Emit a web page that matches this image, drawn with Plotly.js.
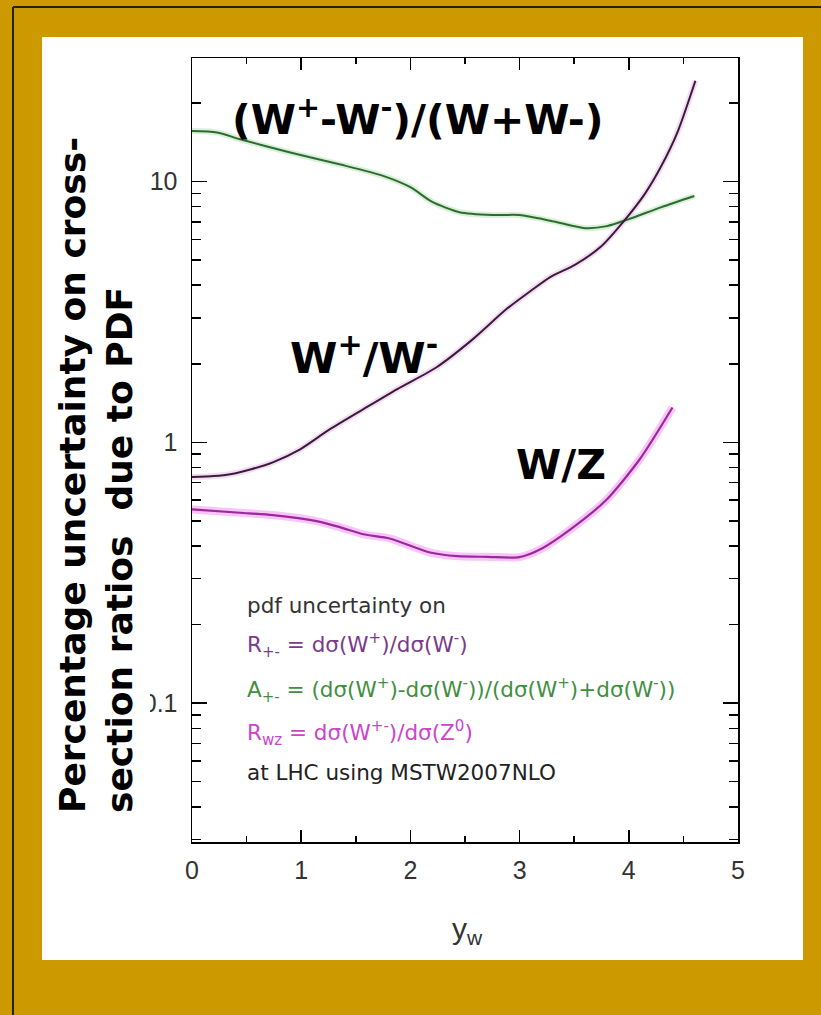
<!DOCTYPE html>
<html>
<head>
<meta charset="utf-8">
<script src="https://cdn.plot.ly/plotly-3.0.1.min.js"></script>
<style>html,body{margin:0;padding:0;background:#CC9900;}#chart{width:821px;height:1015px;}</style>
</head>
<body>
<div id="chart"></div>
<script>
// ---- data ----
const yw_ratio  = [0, 0.2, 0.35, 0.55, 0.74, 0.99, 1.26, 1.57, 1.88, 2.24, 2.57, 2.88, 3.1, 3.28, 3.51, 3.74, 3.97, 4.15, 4.3, 4.45, 4.61];
const pdf_ratio = [0.736, 0.742, 0.754, 0.79, 0.838, 0.94, 1.12, 1.34, 1.60, 1.94, 2.48, 3.24, 3.8, 4.3, 4.8, 5.6, 7.17, 9.0, 11.5, 15.6, 24.3];

const yw_asym  = [0, 0.23, 0.44, 0.9, 1.36, 1.75, 2.0, 2.2, 2.45, 2.75, 3.0, 3.3, 3.6, 3.8, 4.0, 4.3, 4.6];
const pdf_asym = [15.6, 15.4, 14.5, 12.9, 11.6, 10.5, 9.5, 8.34, 7.62, 7.43, 7.43, 7.04, 6.62, 6.74, 7.17, 7.97, 8.79];

const yw_wz  = [0, 0.44, 0.74, 1.14, 1.36, 1.57, 1.81, 2.18, 2.43, 2.7, 3.0, 3.19, 3.49, 3.8, 4.1, 4.4];
const pdf_wz = [0.553, 0.537, 0.526, 0.499, 0.472, 0.444, 0.428, 0.378, 0.366, 0.364, 0.363, 0.389, 0.472, 0.605, 0.861, 1.36];

const xMajorTicks = [0, 1, 2, 3, 4, 5];
const xMinorTicks = [0.5, 1.5, 2.5, 3.5, 4.5];
const yMajorTicks = [0.1, 1, 10];
const yMajorText  = ['0.1', '1', '10'];
const yMinorTicks = [0.03,0.04,0.05,0.06,0.07,0.08,0.09,0.2,0.3,0.4,0.5,0.6,0.7,0.8,0.9,2,3,4,5,6,7,8,9,20,30];

const curveLabels = ['(W<sup>+</sup>-W<sup>-</sup>)/(W+W-)', 'W<sup>+</sup>/W<sup>-</sup>', 'W/Z'];
const legendLines = [
  'pdf uncertainty on',
  'R<sub>+-</sub> = dσ(W<sup>+</sup>)/dσ(W<sup>-</sup>)',
  'A<sub>+-</sub> = (dσ(W<sup>+</sup>)-dσ(W<sup>-</sup>))/(dσ(W<sup>+</sup>)+dσ(W<sup>-</sup>))',
  'R<sub>wz</sub> = dσ(W<sup>+-</sup>)/dσ(Z<sup>0</sup>)',
  'at LHC using MSTW2007NLO'
];
const legendColors = ['#333333', '#7b3b8b', '#3f8f3f', '#cc44cc', '#222222'];
const yTitle = 'Percentage uncertainty on cross-<br>section ratios \u00a0due to PDF';
const xTitle = 'y<sub>w</sub>';

// ---- layout geometry (pixels) ----
const L = 192, R = 738, T = 58, B = 842, W = 821, H = 1015;
const px = v => (v - L) / (R - L);
const py = v => (B - v) / (B - T);
const yr = [-1.532, 1.473];

function halo(x, y, c, w) {
  return {x, y, type: 'scatter', mode: 'lines', line: {color: c, width: w, shape: 'spline', smoothing: 0.7}, opacity: 0.6, hoverinfo: 'skip', showlegend: false};
}
function core(x, y, c, w) {
  return {x, y, type: 'scatter', mode: 'lines', line: {color: c, width: w, shape: 'spline', smoothing: 0.7}, showlegend: false};
}

const data = [
  halo(yw_asym, pdf_asym, '#bfe8bf', 6),
  halo(yw_ratio, pdf_ratio, '#ecc6ec', 6),
  halo(yw_wz, pdf_wz, '#f59cf5', 8),
  core(yw_asym, pdf_asym, '#2e6b30', 2),
  core(yw_ratio, pdf_ratio, '#3a1c3a', 2),
  core(yw_wz, pdf_wz, '#9a2a9a', 2.2),
  // minor tick carriers
  {x: [0, 5], y: [1, 1], xaxis: 'x2', yaxis: 'y2', type: 'scatter', mode: 'none', hoverinfo: 'skip', showlegend: false}
];

const annotations = [];
const labelPos = [[230, 117, 41], [288, 355, 43], [514, 465, 41]];
curveLabels.forEach((t, i) => {
  annotations.push({xref: 'paper', yref: 'paper', x: px(labelPos[i][0]), y: py(labelPos[i][1]),
    xanchor: 'left', yanchor: 'middle', showarrow: false, text: t,
    font: {family: 'DejaVu Sans', weight: 'bold', size: labelPos[i][2], color: '#000'}});
});
const legendY = [605, 645, 690, 733, 772];
legendLines.forEach((t, i) => {
  annotations.push({xref: 'paper', yref: 'paper', x: px(245), y: py(legendY[i]),
    xanchor: 'left', yanchor: 'middle', showarrow: false, text: t,
    font: {family: 'DejaVu Sans', size: 21.5, color: legendColors[i]}});
});
annotations.push({xref: 'paper', yref: 'paper', x: px(96), y: py(475), xanchor: 'center', yanchor: 'middle',
  showarrow: false, text: yTitle, textangle: -90, align: 'left',
  font: {family: 'DejaVu Sans', weight: 'bold', size: 36, color: '#000'}});
annotations.push({xref: 'paper', yref: 'paper', x: px(467), y: py(930), xanchor: 'center', yanchor: 'middle',
  showarrow: false, text: xTitle, font: {family: 'Liberation Sans', size: 30, color: '#333'}});

const shapes = [
  {type: 'rect', xref: 'paper', yref: 'paper', x0: px(42), x1: px(803), y0: py(960), y1: py(37), fillcolor: '#ffffff', line: {width: 0}, layer: 'below'},
  {type: 'rect', xref: 'paper', yref: 'paper', x0: px(42), x1: px(150), y0: py(830), y1: py(125), fillcolor: '#ffffff', line: {width: 0}, layer: 'above'},
  {type: 'line', xref: 'paper', yref: 'paper', x0: px(13), x1: px(13), y0: py(7), y1: py(1015), line: {color: '#222', width: 2}},
  {type: 'line', xref: 'paper', yref: 'paper', x0: px(13), x1: px(821), y0: py(7), y1: py(7), line: {color: '#222', width: 2}}
];

const layout = {
  width: W, height: H,
  margin: {l: L, r: W - R, t: T, b: H - B, pad: 0},
  paper_bgcolor: '#CC9900', plot_bgcolor: '#ffffff',
  showlegend: false,
  xaxis: {range: [0, 5], tickvals: xMajorTicks, ticks: 'inside', ticklen: 12, tickwidth: 1.5, tickcolor: '#000',
    showline: true, linecolor: '#000', linewidth: 1.5, mirror: 'ticks', showgrid: false, zeroline: false,
    tickfont: {family: 'Liberation Sans', size: 25, color: '#333'}, ticklabelstandoff: 5},
  yaxis: {type: 'log', range: yr, tickvals: yMajorTicks, ticktext: yMajorText, ticks: 'inside', ticklen: 15, tickwidth: 1.5, tickcolor: '#000',
    showline: true, linecolor: '#000', linewidth: 1.5, mirror: 'ticks', showgrid: false, zeroline: false,
    tickfont: {family: 'Liberation Sans', size: 25, color: '#333'}, ticklabelstandoff: 8},
  xaxis2: {overlaying: 'x', range: [0, 5], tickvals: xMinorTicks, ticks: 'inside', ticklen: 6, tickwidth: 1.5, tickcolor: '#000',
    mirror: 'ticks', showline: false, showgrid: false, zeroline: false, showticklabels: false, side: 'bottom'},
  yaxis2: {overlaying: 'y', type: 'log', range: yr, tickvals: yMinorTicks, ticks: 'inside', ticklen: 9, tickwidth: 1.5, tickcolor: '#000',
    mirror: 'ticks', showline: false, showgrid: false, zeroline: false, showticklabels: false, side: 'left'},
  annotations, shapes
};

Plotly.newPlot('chart', data, layout, {displayModeBar: false, staticPlot: true});
</script>
</body>
</html>
